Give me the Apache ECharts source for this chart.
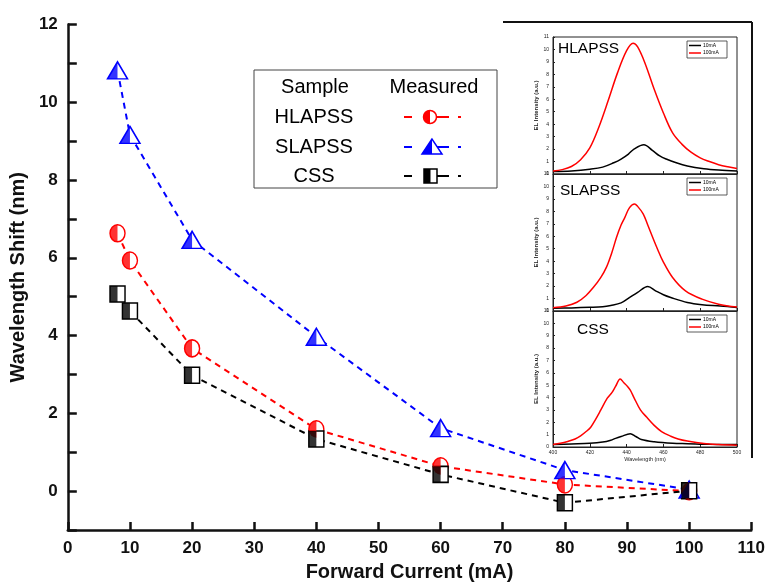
<!DOCTYPE html>
<html><head><meta charset="utf-8">
<script src="https://cdn.jsdelivr.net/npm/echarts@6/dist/echarts.min.js"></script>
<style>html,body{margin:0;padding:0;background:#fff}#c{width:768px;height:587px}</style>
</head><body><div id="c"></div>
<script>
// ---- main chart data ----
const currents = [8, 10, 20, 40, 60, 80, 100];
const hlapssShift = [6.63, 5.93, 3.67, 1.59, 0.64, 0.17, 0.0];
const slapssShift = [10.82, 9.16, 6.46, 3.97, 1.62, 0.54, 0.04];
const cssShift = [5.07, 4.63, 2.98, 1.34, 0.43, -0.30, 0.01];
const xTicks = [0, 10, 20, 30, 40, 50, 60, 70, 80, 90, 100, 110];
const yTicks = [0, 2, 4, 6, 8, 10, 12];

// ---- inset spectra data (wavelength nm, EL intensity a.u.) ----
const hl10wl  = [400,410,420,427,433,437,441,444,449.4,454,458,461.5,467,473,482,490,500];
const hl10    = [0.2,0.25,0.38,0.55,0.9,1.2,1.6,2.0,2.35,1.9,1.45,1.2,0.9,0.65,0.43,0.32,0.24];
const hl100wl = [400,405,410,415,420,425,430,435,440,443.5,446,450,455,460,465,470,475,480,485,490,495,500];
const hl100   = [0.24,0.35,0.6,1.15,2.1,3.8,5.9,8.1,9.9,10.5,10.2,8.9,6.8,4.9,3.3,2.4,1.75,1.3,1.0,0.75,0.58,0.45];
const sl10wl  = [400,410,420,427,431.4,437,441.3,446,451.5,456,460,464,473,481,491,500];
const sl10    = [0.22,0.25,0.3,0.35,0.45,0.65,1.05,1.5,1.97,1.6,1.3,1.08,0.68,0.5,0.4,0.28];
const sl100wl = [400,407,413,418,422,426,429,432,434.5,437,439,441.6,444.3,446,449,451.5,454.2,457,459.6,465,472,481,490,500];
const sl100   = [0.27,0.4,0.7,1.25,1.9,2.7,3.5,4.7,5.9,6.9,7.5,8.3,8.6,8.4,7.8,6.9,5.9,4.9,4.04,2.69,1.62,0.95,0.55,0.32];
const cs10wl  = [400,410,420,427,431.4,434,437,442,445,448,455,465,473,485,500];
const cs10    = [0.2,0.25,0.3,0.4,0.55,0.7,0.85,1.08,0.85,0.6,0.42,0.3,0.27,0.22,0.2];
const cs100wl = [400,404,408,412,415,418,420.5,423,426,429.5,432,434,436.5,438.5,440.5,442,444,447.5,451,455,459,464,468,473,482,490,500];
const cs100   = [0.2,0.3,0.45,0.65,0.9,1.25,1.6,2.2,3.0,3.95,4.4,4.9,5.5,5.2,4.9,4.6,4.0,3.0,2.4,1.75,1.25,0.87,0.65,0.48,0.28,0.2,0.15];
const insetNames = ['HLAPSS', 'SLAPSS', 'CSS'];
const insetLegend = ['10mA', '100mA'];

const pairs = (xs, ys) => xs.map((x, i) => [x, ys[i]]);
const FONT = 'Liberation Sans, Arial, sans-serif';

const samples = [
  {name: 'HLAPSS', color: '#ff0000', ys: hlapssShift, sym: 'circle', size: [15, 17], half: 'path://M10,0 A10,10 0 0 0 10,20 Z'},
  {name: 'SLAPSS', color: '#0000ff', ys: slapssShift, sym: 'triangle', size: [20, 17], half: 'path://M10,0 L0,20 L10,20 Z'},
  {name: 'CSS', color: '#000000', ys: cssShift, sym: 'rect', size: [15, 16], half: 'rect'}
];

const series = [];
samples.forEach(s => {
  series.push({
    type: 'line', name: s.name, xAxisIndex: 0, yAxisIndex: 0,
    data: pairs(currents, s.ys),
    symbol: s.sym, symbolSize: s.size, showSymbol: true,
    itemStyle: {color: '#fff', borderColor: s.color, borderWidth: 1.5},
    lineStyle: {color: s.color, width: 2, type: [6, 5]},
    z: 3, silent: true
  });
  series.push({
    type: 'scatter', name: s.name + '_half', xAxisIndex: 0, yAxisIndex: 0,
    data: pairs(currents, s.ys),
    symbol: s.half, symbolSize: [s.size[0] / 2, s.size[1]], symbolOffset: [-s.size[0] / 4, 0],
    itemStyle: {color: s.color}, z: 4, silent: true
  });
});

// inset panels
const insetTops = [37, 174, 311];
const insetHeights = [137, 137, 136];
const spectra = [[hl10wl, hl10, hl100wl, hl100], [sl10wl, sl10, sl100wl, sl100], [cs10wl, cs10, cs100wl, cs100]];
const grids = [{left: 65.5, right: 14.5, top: 24.5, bottom: 53}];
const xAxes = [{
  type: 'value', gridIndex: 0, min: 0, max: 110, interval: 10,
  axisLine: {show: true, onZero: false, lineStyle: {color: '#111', width: 2.5}},
  axisTick: {show: true, inside: true, length: 8, lineStyle: {color: '#111', width: 2.5}},
  axisLabel: {color: '#111', fontSize: 17, fontWeight: 'bold', fontFamily: FONT, margin: 10},
  splitLine: {show: false},
  name: 'Forward Current (mA)', nameLocation: 'middle', nameGap: 32,
  nameTextStyle: {color: '#111', fontSize: 20, fontWeight: 'bold', fontFamily: FONT}
}];
const yAxes = [{
  type: 'value', gridIndex: 0, min: -1, max: 12, interval: 1,
  axisLine: {show: true, onZero: false, lineStyle: {color: '#111', width: 2.5}},
  axisTick: {show: true, inside: true, length: 9, lineStyle: {color: '#111', width: 2.5}},
  axisLabel: {color: '#111', fontSize: 17, fontWeight: 'bold', fontFamily: FONT, margin: 10,
    formatter: v => (yTicks.indexOf(v) >= 0 ? String(v) : '')},
  splitLine: {show: false},
  name: 'Wavelength Shift (nm)', nameLocation: 'middle', nameGap: 27, nameRotate: 90,
  nameTextStyle: {color: '#111', fontSize: 20, fontWeight: 'bold', fontFamily: FONT}
}];
insetNames.forEach((nm, i) => {
  const gi = i + 1;
  grids.push({left: 553, width: 184, top: insetTops[i], height: insetHeights[i],
    show: true, backgroundColor: '#fff', borderColor: '#222', borderWidth: 1});
  xAxes.push({
    type: 'value', gridIndex: gi, min: 400, max: 500, interval: 20,
    axisLine: {show: true, onZero: false, lineStyle: {color: '#222', width: 1}},
    axisTick: {show: true, inside: true, length: 3, lineStyle: {color: '#222'}},
    axisLabel: {show: i === 2, fontSize: 5, color: '#222', margin: 3, fontFamily: FONT},
    splitLine: {show: false},
    name: i === 2 ? 'Wavelength (nm)' : '', nameLocation: 'middle', nameGap: 9,
    nameTextStyle: {fontSize: 5.5, color: '#222', fontFamily: FONT}
  });
  yAxes.push({
    type: 'value', gridIndex: gi, min: 0, max: 11, interval: 1,
    axisLine: {show: true, onZero: false, lineStyle: {color: '#222', width: 1}},
    axisTick: {show: true, inside: true, length: 2, lineStyle: {color: '#222'}},
    axisLabel: {fontSize: 5, color: '#222', margin: 4, fontFamily: FONT},
    splitLine: {show: false},
    name: 'EL Intensity (a.u.)', nameLocation: 'middle', nameGap: 12,
    nameTextStyle: {fontSize: 6, fontWeight: 'bold', color: '#222', fontFamily: FONT}
  });
  const sp = spectra[i];
  series.push({type: 'line', name: nm + ' ' + insetLegend[0], xAxisIndex: gi, yAxisIndex: gi,
    data: pairs(sp[0], sp[1]), smooth: 0.35, showSymbol: false, silent: true,
    lineStyle: {color: '#000', width: 1.5}, z: 5});
  series.push({type: 'line', name: nm + ' ' + insetLegend[1], xAxisIndex: gi, yAxisIndex: gi,
    data: pairs(sp[2], sp[3]), smooth: 0.35, showSymbol: false, silent: true,
    lineStyle: {color: '#ff0000', width: 1.5}, z: 5});
});

// graphics: main legend table, inset frame, inset labels & legends
const g = [];
g.push({type: 'rect', shape: {x: 254, y: 70, width: 243, height: 118}, style: {fill: 'none', stroke: '#444', lineWidth: 1}, z: 10});
const txt = (t, x, y, size, align, extra) => Object.assign({type: 'text', x: x, y: y, z: 11,
  style: {text: t, fontSize: size, fontFamily: FONT, fill: '#000', textAlign: align || 'center', textVerticalAlign: 'middle'}}, extra || {});
g.push(txt('Sample', 315, 87, 20));
g.push(txt('Measured', 434, 87, 20));
const rowsY = [117, 147, 176];
samples.forEach((s, i) => {
  const y = rowsY[i];
  g.push(txt(s.name, 314, y, 20));
  g.push({type: 'line', shape: {x1: 404, y1: y, x2: 412, y2: y}, style: {stroke: s.color, lineWidth: 2}, z: 11});
  g.push({type: 'line', shape: {x1: 437, y1: y, x2: 449, y2: y}, style: {stroke: s.color, lineWidth: 2}, z: 11});
  g.push({type: 'line', shape: {x1: 458, y1: y, x2: 461, y2: y}, style: {stroke: s.color, lineWidth: 2}, z: 11});
  const cx = 430;
  if (s.sym === 'circle') {
    g.push({type: 'circle', shape: {cx: cx, cy: y, r: 6.5}, style: {fill: '#fff', stroke: s.color, lineWidth: 1.5}, z: 12});
    g.push({type: 'sector', shape: {cx: cx, cy: y, r: 6.5, startAngle: Math.PI / 2, endAngle: Math.PI * 1.5, clockwise: true}, style: {fill: s.color}, z: 13});
  } else if (s.sym === 'triangle') {
    g.push({type: 'polygon', shape: {points: [[cx + 2, y - 8], [cx - 8, y + 7], [cx + 12, y + 7]]}, style: {fill: '#fff', stroke: s.color, lineWidth: 1.5}, z: 12});
    g.push({type: 'polygon', shape: {points: [[cx + 2, y - 8], [cx - 8, y + 7], [cx + 2, y + 7]]}, style: {fill: s.color}, z: 13});
  } else {
    g.push({type: 'rect', shape: {x: cx - 6, y: y - 7, width: 13, height: 14}, style: {fill: '#fff', stroke: s.color, lineWidth: 1.5}, z: 12});
    g.push({type: 'rect', shape: {x: cx - 6, y: y - 7, width: 6.5, height: 14}, style: {fill: s.color}, z: 13});
  }
});
// inset outer frame (top and right)
g.push({type: 'line', shape: {x1: 503, y1: 22, x2: 752, y2: 22}, style: {stroke: '#111', lineWidth: 2}, z: 10});
g.push({type: 'line', shape: {x1: 752, y1: 22, x2: 752, y2: 458}, style: {stroke: '#111', lineWidth: 2}, z: 10});
// panel titles
const titlePos = [[558, 49], [560, 191], [577, 330]];
insetNames.forEach((nm, i) => {
  g.push(txt(nm, titlePos[i][0], titlePos[i][1], 15.5, 'left', {}));
  const ty = insetTops[i] + 4;
  g.push({type: 'rect', shape: {x: 687, y: ty, width: 40, height: 17}, style: {fill: '#fff', stroke: '#333', lineWidth: 0.8}, z: 11});
  g.push({type: 'line', shape: {x1: 689, y1: ty + 4.5, x2: 701, y2: ty + 4.5}, style: {stroke: '#000', lineWidth: 1.5}, z: 12});
  g.push({type: 'line', shape: {x1: 689, y1: ty + 12, x2: 701, y2: ty + 12}, style: {stroke: '#ff0000', lineWidth: 1.5}, z: 12});
  g.push(txt(insetLegend[0], 703, ty + 4.5, 5, 'left'));
  g.push(txt(insetLegend[1], 703, ty + 12, 5, 'left'));
});

const chart = echarts.init(document.getElementById('c'), null, {renderer: 'canvas'});
chart.setOption({
  animation: false,
  backgroundColor: '#fff',
  grid: grids, xAxis: xAxes, yAxis: yAxes, series: series, graphic: g
});
</script></body></html>
